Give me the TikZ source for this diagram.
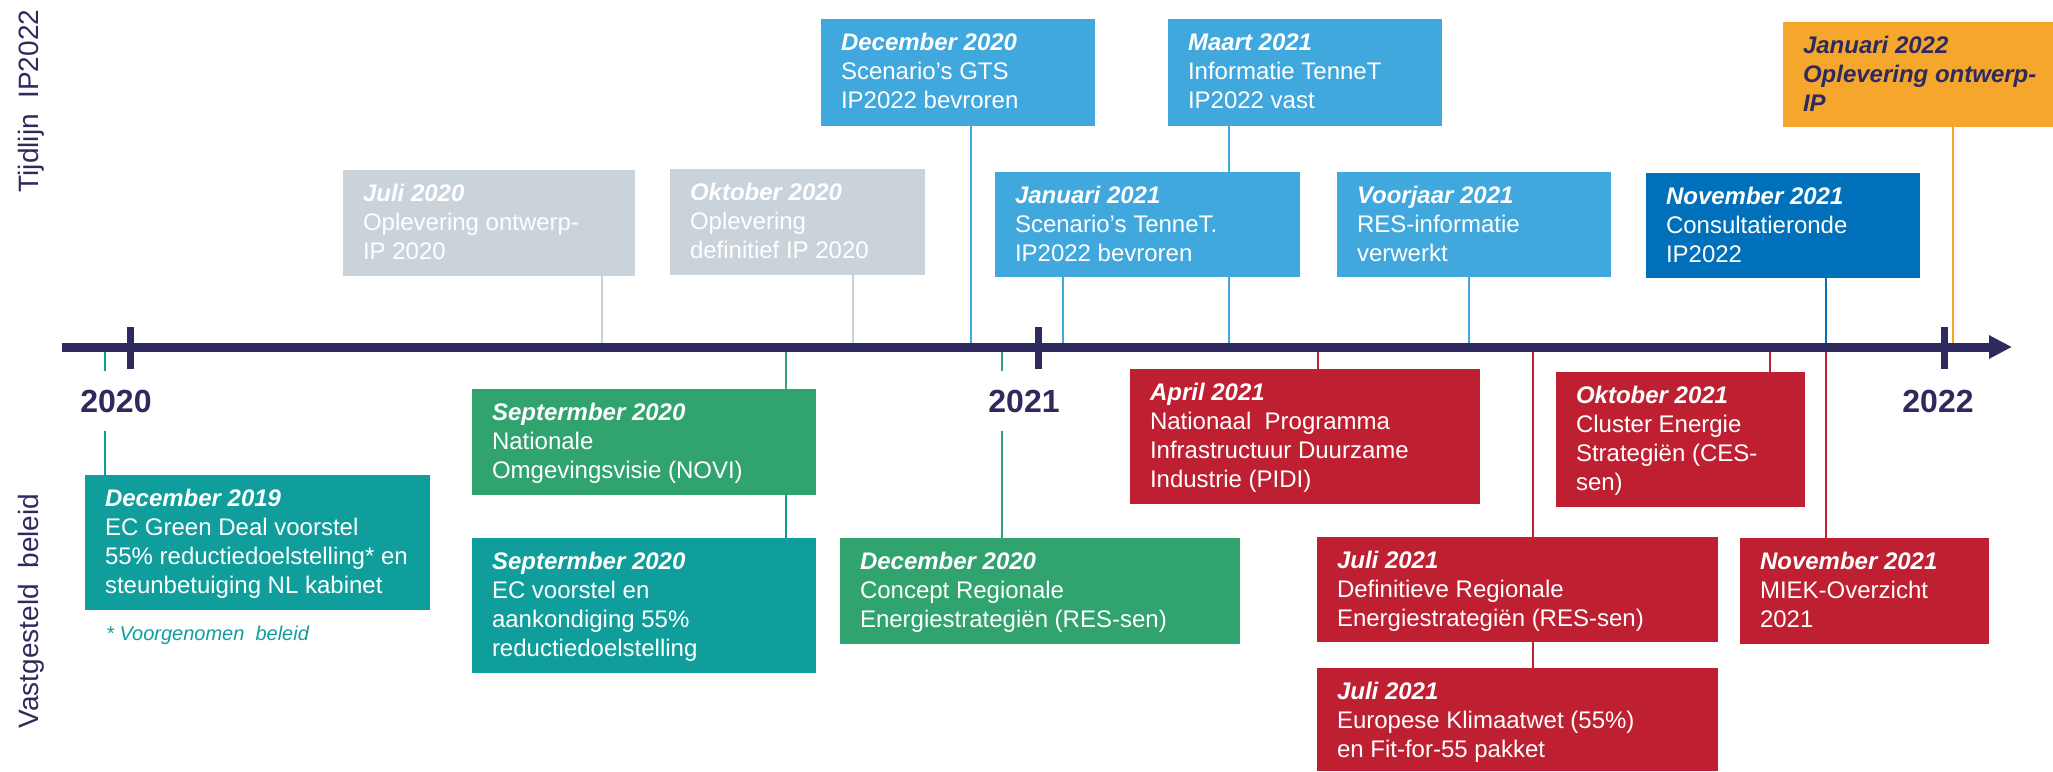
\documentclass[tikz,border=0pt]{standalone}
\usepackage{fontspec}
\setmainfont{Liberation Sans}
\usetikzlibrary{arrows.meta}
\definecolor{cNavy}{RGB}{46,42,94}
\definecolor{cGrey}{RGB}{203,211,218}
\definecolor{cLBlue}{RGB}{65,168,222}
\definecolor{cDBlue}{RGB}{0,112,186}
\definecolor{cOrange}{RGB}{245,167,45}
\definecolor{cGreen}{RGB}{49,163,110}
\definecolor{cTeal}{RGB}{15,158,156}
\definecolor{cRed}{RGB}{190,32,50}
\newcommand\evfont{\fontsize{24}{29}\selectfont}
\newcommand\evt[4]{\parbox[t][#2pt][t]{#1pt}{\raggedright\leftskip=20pt\relax\rule{0pt}{31pt}\textbf{\textit{#3}}\\#4}}
\tikzset{
  evbox/.style={anchor=north west, inner sep=0pt, outer sep=0pt, text=white, font=\evfont},
  conn/.style={line width=2pt},
  yearlbl/.style={font=\fontsize{32}{38}\selectfont\bfseries, text=cNavy, inner sep=0pt, minimum height=59pt},
  sidelbl/.style={rotate=90, anchor=base, font=\fontsize{28}{34}\selectfont, text=cNavy, inner sep=0pt},
  tickmark/.style={line width=7pt, cNavy}
}
\begin{document}
\begin{tikzpicture}[x=1pt,y=-1pt]
\useasboundingbox (0,0) rectangle (2053,771);

% side labels
\node[sidelbl] (tl) at (38,101) {Tijdlijn\ \ IP2022};
\node[sidelbl] (vb) at (38,611) {Vastgesteld\ \ beleid};

% top boxes
\node[evbox, fill=cGrey] (juli20) at (343,170) {\evt{292}{106}{Juli 2020}{Oplevering ontwerp-\\IP 2020}};
\node[evbox, fill=cGrey] (okt20) at (670,169) {\evt{255}{106}{Oktober 2020}{Oplevering\\definitief IP 2020}};
\node[evbox, fill=cLBlue] (dec20) at (821,19) {\evt{274}{107}{December 2020}{Scenario’s GTS\\IP2022 bevroren}};
\node[evbox, fill=cLBlue] (jan21) at (995,172) {\evt{305}{105}{Januari 2021}{Scenario’s TenneT.\\IP2022 bevroren}};
\node[evbox, fill=cLBlue] (maa21) at (1168,19) {\evt{274}{107}{Maart 2021}{Informatie TenneT\\IP2022 vast}};
\node[evbox, fill=cLBlue] (vjr21) at (1337,172) {\evt{274}{105}{Voorjaar 2021}{RES-informatie\\verwerkt}};
\node[evbox, fill=cDBlue] (nov21) at (1646,173) {\evt{274}{105}{November 2021}{Consultatieronde\\IP2022}};
\node[evbox, fill=cOrange, text=cNavy, font=\evfont\bfseries\itshape] (jan22) at (1783,22) {\evt{270}{105}{Januari 2022}{Oplevering ontwerp-\\IP}};

% bottom boxes
\node[evbox, fill=cTeal] (dec19) at (85,475) {\evt{345}{135}{December 2019}{EC Green Deal voorstel\\55\% reductiedoelstelling* en\\steunbetuiging NL kabinet}};
\node[evbox, fill=cGreen] (novi) at (472,389) {\evt{344}{106}{Septermber 2020}{Nationale\\Omgevingsvisie (NOVI)}};
\node[evbox, fill=cTeal] (ecv) at (472,538) {\evt{344}{135}{Septermber 2020}{EC voorstel en\\aankondiging 55\%\\reductiedoelstelling}};
\node[evbox, fill=cGreen] (conc) at (840,538) {\evt{400}{106}{December 2020}{Concept Regionale\\Energiestrategiën (RES-sen)}};
\node[evbox, fill=cRed] (apr21) at (1130,369) {\evt{350}{135}{April 2021}{Nationaal\ \ Programma\\Infrastructuur Duurzame\\Industrie (PIDI)}};
\node[evbox, fill=cRed] (juli21a) at (1317,537) {\evt{401}{105}{Juli 2021}{Definitieve Regionale\\Energiestrategiën (RES-sen)}};
\node[evbox, fill=cRed] (juli21b) at (1317,668) {\evt{401}{103}{Juli 2021}{Europese Klimaatwet (55\%)\\en Fit-for-55 pakket}};
\node[evbox, fill=cRed] (okt21) at (1556,372) {\evt{249}{135}{Oktober 2021}{Cluster Energie\\Strategiën (CES-\\sen)}};
\node[evbox, fill=cRed] (miek) at (1740,538) {\evt{249}{106}{November 2021}{MIEK-Overzicht\\2021}};

\node[anchor=base west, inner sep=0pt, font=\fontsize{20}{24}\selectfont\itshape, text=cTeal] (fn) at (106,640) {* Voorgenomen\ \ beleid};

% year labels
\node[yearlbl] (y2020) at (116,401) {2020};
\node[yearlbl] (y2021) at (1024,401) {2021};
\node[yearlbl] (y2022) at (1938,401) {2022};

% axis coordinates
\coordinate (aJuli20) at (602,347);
\coordinate (aOkt20) at (853,347);
\coordinate (aDec20) at (971,347);
\coordinate (aJan21) at (1063,347);
\coordinate (aMaa21) at (1229,347);
\coordinate (aVjr21) at (1469,347);
\coordinate (aNov21) at (1826,347);
\coordinate (aJan22) at (1953,347);
\coordinate (aDec19) at (105,347);
\coordinate (aNovi) at (786,347);
\coordinate (aConc) at (1002,347);
\coordinate (aApr21) at (1318,347);
\coordinate (aJuli21) at (1533,347);
\coordinate (aOkt21) at (1770,347);

% connectors above
\draw[conn, cGrey] (juli20.south -| aJuli20) -- (aJuli20);
\draw[conn, cGrey] (okt20.south -| aOkt20) -- (aOkt20);
\draw[conn, cLBlue] (dec20.south -| aDec20) -- (aDec20);
\draw[conn, cLBlue] (jan21.south -| aJan21) -- (aJan21);
\draw[conn, cLBlue] (maa21.south -| aMaa21) -- (jan21.north -| aMaa21);
\draw[conn, cLBlue] (jan21.south -| aMaa21) -- (aMaa21);
\draw[conn, cLBlue] (vjr21.south -| aVjr21) -- (aVjr21);
\draw[conn, cDBlue] (nov21.south -| aNov21) -- (aNov21);
\draw[conn, cOrange] (jan22.south -| aJan22) -- (aJan22);

% connectors below
\draw[conn, cTeal] (aDec19) -- (y2020.north -| aDec19);
\draw[conn, cTeal] (y2020.south -| aDec19) -- (dec19.north -| aDec19);
\draw[conn, cGreen] (aNovi) -- (novi.north -| aNovi);
\draw[conn, cTeal] (novi.south -| aNovi) -- (ecv.north -| aNovi);
\draw[conn, cGreen] (aConc) -- (y2021.north -| aConc);
\draw[conn, cGreen] (y2021.south -| aConc) -- (conc.north -| aConc);
\draw[conn, cRed] (aApr21) -- (apr21.north -| aApr21);
\draw[conn, cRed] (aJuli21) -- (juli21a.north -| aJuli21);
\draw[conn, cRed] (juli21a.south -| aJuli21) -- (juli21b.north -| aJuli21);
\draw[conn, cRed] (aOkt21) -- (okt21.north -| aOkt21);
\draw[conn, cRed] (aNov21) -- (miek.north -| aNov21);

% axis
\coordinate (axS) at (62,347);
\coordinate (axE) at (2012,347);
\draw[line width=9pt, cNavy, -{Triangle[length=23pt,width=22pt]}] (axS) -- (axE);
\draw[tickmark] (130,327) -- (130,369);
\draw[tickmark] (1038,327) -- (1038,369);
\draw[tickmark] (1944,327) -- (1944,369);
\end{tikzpicture}
\end{document}
